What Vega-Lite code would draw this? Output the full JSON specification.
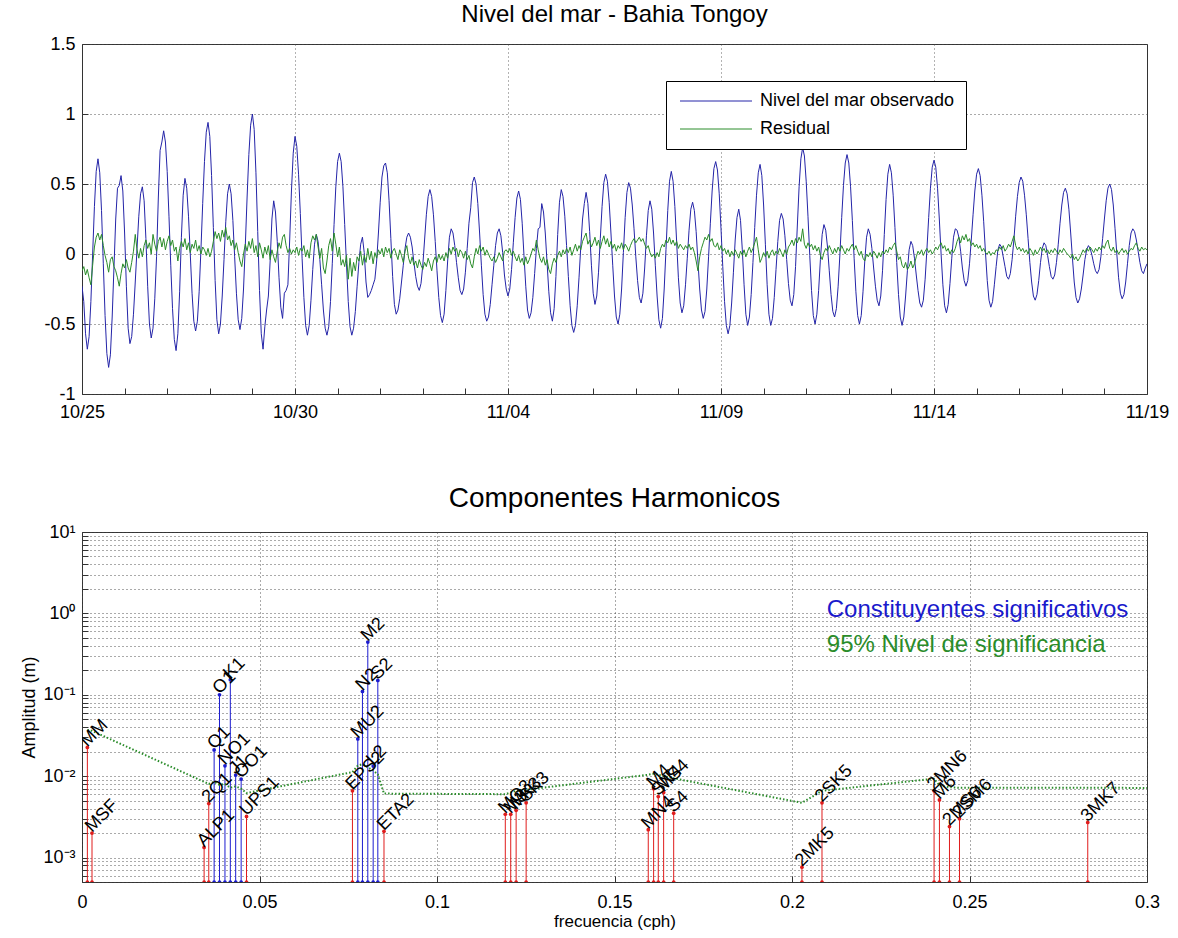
{
  "$schema": "https://vega.github.io/schema/vega-lite/v6.json",
  "background": "white",
  "padding": {"left": 20, "top": 2, "right": 5, "bottom": 0},
  "spacing": 62,
  "config": {
    "font": "Liberation Sans",
    "view": {"stroke": "#333333", "strokeWidth": 1},
    "axis": {
      "labelFontSize": 18,
      "labelColor": "#000000",
      "titleFontSize": 18,
      "titleFontWeight": "normal",
      "titleColor": "#000000",
      "domain": false,
      "tickColor": "#333333",
      "tickSize": -6,
      "labelPadding": 13,
      "labelOverlap": false,
      "labelFlush": false,
      "gridColor": "#444444",
      "gridDash": [1, 3],
      "gridOpacity": 0.9
    },
    "axisX": {"labelPadding": 15},
    "title": {"fontWeight": "normal", "color": "#000000"}
  },
  "vconcat": [
    {
      "width": 1065,
      "height": 350,
      "title": {"text": "Nivel del mar - Bahia Tongoy", "fontSize": 24, "offset": 8},
      "data": {"name": "serie_horaria", "values": [
{"hora":0,"nivel":-0.23,"residual":-0.12},{"hora":1,"nivel":-0.34,"residual":-0.09},{"hora":2,"nivel":-0.57,"residual":-0.15},{"hora":3,"nivel":-0.68,"residual":-0.11},{"hora":4,"nivel":-0.59,"residual":-0.17},{"hora":5,"nivel":-0.34,"residual":-0.22},{"hora":6,"nivel":0.00,"residual":-0.08},{"hora":7,"nivel":0.34,"residual":0.05},{"hora":8,"nivel":0.59,"residual":0.12},{"hora":9,"nivel":0.68,"residual":0.15},{"hora":10,"nivel":0.58,"residual":0.10},{"hora":11,"nivel":0.31,"residual":0.14},
{"hora":12,"nivel":-0.07,"residual":0.06},{"hora":13,"nivel":-0.44,"residual":-0.01},{"hora":14,"nivel":-0.71,"residual":-0.06},{"hora":15,"nivel":-0.81,"residual":-0.13},{"hora":16,"nivel":-0.72,"residual":-0.04},{"hora":17,"nivel":-0.45,"residual":-0.02},{"hora":18,"nivel":-0.10,"residual":-0.09},{"hora":19,"nivel":0.25,"residual":-0.12},{"hora":20,"nivel":0.47,"residual":-0.17},{"hora":21,"nivel":0.49,"residual":-0.23},{"hora":22,"nivel":0.56,"residual":-0.14},{"hora":23,"nivel":0.45,"residual":-0.07},
{"hora":24,"nivel":0.15,"residual":-0.10},{"hora":25,"nivel":-0.23,"residual":-0.04},{"hora":26,"nivel":-0.53,"residual":-0.10},{"hora":27,"nivel":-0.64,"residual":-0.13},{"hora":28,"nivel":-0.59,"residual":-0.06},{"hora":29,"nivel":-0.43,"residual":0.02},{"hora":30,"nivel":-0.20,"residual":0.14},{"hora":31,"nivel":0.04,"residual":0.03},{"hora":32,"nivel":0.27,"residual":-0.03},{"hora":33,"nivel":0.43,"residual":0.04},{"hora":34,"nivel":0.48,"residual":-0.02},{"hora":35,"nivel":0.38,"residual":0.06},
{"hora":36,"nivel":0.11,"residual":0.10},{"hora":37,"nivel":-0.23,"residual":0.04},{"hora":38,"nivel":-0.50,"residual":0.08},{"hora":39,"nivel":-0.60,"residual":0.00},{"hora":40,"nivel":-0.53,"residual":0.14},{"hora":41,"nivel":-0.32,"residual":0.07},{"hora":42,"nivel":-0.02,"residual":0.02},{"hora":43,"nivel":0.40,"residual":0.09},{"hora":44,"nivel":0.74,"residual":0.12},{"hora":45,"nivel":0.80,"residual":0.05},{"hora":46,"nivel":0.88,"residual":0.11},{"hora":47,"nivel":0.80,"residual":0.03},
{"hora":48,"nivel":0.59,"residual":0.09},{"hora":49,"nivel":0.27,"residual":0.13},{"hora":50,"nivel":-0.08,"residual":0.06},{"hora":51,"nivel":-0.39,"residual":0.10},{"hora":52,"nivel":-0.61,"residual":0.02},{"hora":53,"nivel":-0.69,"residual":0.05},{"hora":54,"nivel":-0.57,"residual":-0.05},{"hora":55,"nivel":-0.27,"residual":0.04},{"hora":56,"nivel":0.12,"residual":0.09},{"hora":57,"nivel":0.42,"residual":0.05},{"hora":58,"nivel":0.54,"residual":0.11},{"hora":59,"nivel":0.47,"residual":0.03},
{"hora":60,"nivel":0.27,"residual":0.08},{"hora":61,"nivel":0.00,"residual":0.01},{"hora":62,"nivel":-0.28,"residual":0.07},{"hora":63,"nivel":-0.48,"residual":0.04},{"hora":64,"nivel":-0.55,"residual":0.10},{"hora":65,"nivel":-0.48,"residual":0.02},{"hora":66,"nivel":-0.27,"residual":0.06},{"hora":67,"nivel":0.03,"residual":0.00},{"hora":68,"nivel":0.36,"residual":0.05},{"hora":69,"nivel":0.66,"residual":0.03},{"hora":70,"nivel":0.87,"residual":-0.01},{"hora":71,"nivel":0.94,"residual":0.04},
{"hora":72,"nivel":0.84,"residual":-0.02},{"hora":73,"nivel":0.56,"residual":0.02},{"hora":74,"nivel":0.19,"residual":0.09},{"hora":75,"nivel":-0.19,"residual":0.16},{"hora":76,"nivel":-0.47,"residual":0.11},{"hora":77,"nivel":-0.57,"residual":0.15},{"hora":78,"nivel":-0.50,"residual":0.09},{"hora":79,"nivel":-0.30,"residual":0.17},{"hora":80,"nivel":-0.04,"residual":0.12},{"hora":81,"nivel":0.23,"residual":0.19},{"hora":82,"nivel":0.43,"residual":0.10},{"hora":83,"nivel":0.50,"residual":0.13},
{"hora":84,"nivel":0.43,"residual":0.06},{"hora":85,"nivel":0.24,"residual":0.10},{"hora":86,"nivel":-0.02,"residual":0.03},{"hora":87,"nivel":-0.28,"residual":0.08},{"hora":88,"nivel":-0.47,"residual":0.01},{"hora":89,"nivel":-0.54,"residual":-0.05},{"hora":90,"nivel":-0.46,"residual":-0.09},{"hora":91,"nivel":-0.25,"residual":0.00},{"hora":92,"nivel":0.06,"residual":0.07},{"hora":93,"nivel":0.40,"residual":0.02},{"hora":94,"nivel":0.71,"residual":0.09},{"hora":95,"nivel":0.92,"residual":0.04},
{"hora":96,"nivel":1.00,"residual":0.11},{"hora":97,"nivel":0.89,"residual":0.01},{"hora":98,"nivel":0.58,"residual":0.06},{"hora":99,"nivel":0.16,"residual":-0.02},{"hora":100,"nivel":-0.26,"residual":0.08},{"hora":101,"nivel":-0.57,"residual":0.03},{"hora":102,"nivel":-0.68,"residual":-0.03},{"hora":103,"nivel":-0.52,"residual":0.05},{"hora":104,"nivel":-0.40,"residual":0.00},{"hora":105,"nivel":-0.30,"residual":0.06},{"hora":106,"nivel":-0.05,"residual":-0.04},{"hora":107,"nivel":0.25,"residual":0.03},
{"hora":108,"nivel":0.38,"residual":-0.02},{"hora":109,"nivel":0.30,"residual":-0.06},{"hora":110,"nivel":0.09,"residual":0.02},{"hora":111,"nivel":-0.17,"residual":0.08},{"hora":112,"nivel":-0.38,"residual":0.04},{"hora":113,"nivel":-0.46,"residual":0.12},{"hora":114,"nivel":-0.28,"residual":0.14},{"hora":115,"nivel":-0.26,"residual":0.06},{"hora":116,"nivel":-0.22,"residual":0.01},{"hora":117,"nivel":0.10,"residual":0.04},{"hora":118,"nivel":0.45,"residual":0.00},{"hora":119,"nivel":0.72,"residual":0.03},
{"hora":120,"nivel":0.84,"residual":0.01},{"hora":121,"nivel":0.77,"residual":0.05},{"hora":122,"nivel":0.57,"residual":-0.01},{"hora":123,"nivel":0.29,"residual":0.04},{"hora":124,"nivel":-0.03,"residual":0.02},{"hora":125,"nivel":-0.31,"residual":0.06},{"hora":126,"nivel":-0.51,"residual":-0.02},{"hora":127,"nivel":-0.58,"residual":0.03},{"hora":128,"nivel":-0.51,"residual":-0.03},{"hora":129,"nivel":-0.33,"residual":0.08},{"hora":130,"nivel":-0.11,"residual":0.13},{"hora":131,"nivel":0.07,"residual":0.10},
{"hora":132,"nivel":0.14,"residual":0.14},{"hora":133,"nivel":0.09,"residual":0.05},{"hora":134,"nivel":-0.04,"residual":-0.03},{"hora":135,"nivel":-0.22,"residual":0.04},{"hora":136,"nivel":-0.40,"residual":-0.10},{"hora":137,"nivel":-0.53,"residual":-0.14},{"hora":138,"nivel":-0.58,"residual":-0.05},{"hora":139,"nivel":-0.52,"residual":0.06},{"hora":140,"nivel":-0.34,"residual":0.11},{"hora":141,"nivel":-0.07,"residual":0.02},{"hora":142,"nivel":0.21,"residual":0.15},{"hora":143,"nivel":0.48,"residual":0.07},
{"hora":144,"nivel":0.66,"residual":-0.02},{"hora":145,"nivel":0.72,"residual":0.05},{"hora":146,"nivel":0.66,"residual":-0.08},{"hora":147,"nivel":0.48,"residual":-0.04},{"hora":148,"nivel":0.21,"residual":-0.09},{"hora":149,"nivel":-0.07,"residual":-0.01},{"hora":150,"nivel":-0.34,"residual":-0.18},{"hora":151,"nivel":-0.52,"residual":-0.03},{"hora":152,"nivel":-0.58,"residual":-0.16},{"hora":153,"nivel":-0.53,"residual":-0.06},{"hora":154,"nivel":-0.41,"residual":-0.12},{"hora":155,"nivel":-0.23,"residual":-0.02},
{"hora":156,"nivel":-0.06,"residual":-0.05},{"hora":157,"nivel":0.07,"residual":0.02},{"hora":158,"nivel":0.12,"residual":-0.08},{"hora":159,"nivel":0.01,"residual":-0.01},{"hora":160,"nivel":-0.20,"residual":-0.06},{"hora":161,"nivel":-0.31,"residual":0.04},{"hora":162,"nivel":-0.29,"residual":-0.04},{"hora":163,"nivel":-0.26,"residual":0.02},{"hora":164,"nivel":-0.22,"residual":-0.07},{"hora":165,"nivel":-0.18,"residual":0.01},{"hora":166,"nivel":-0.05,"residual":-0.03},{"hora":167,"nivel":0.15,"residual":0.03},
{"hora":168,"nivel":0.37,"residual":0.00},{"hora":169,"nivel":0.55,"residual":0.04},{"hora":170,"nivel":0.63,"residual":-0.02},{"hora":171,"nivel":0.65,"residual":0.05},{"hora":172,"nivel":0.58,"residual":0.01},{"hora":173,"nivel":0.38,"residual":0.04},{"hora":174,"nivel":0.11,"residual":-0.03},{"hora":175,"nivel":-0.16,"residual":0.02},{"hora":176,"nivel":-0.36,"residual":0.04},{"hora":177,"nivel":-0.43,"residual":0.00},{"hora":178,"nivel":-0.40,"residual":-0.04},{"hora":179,"nivel":-0.32,"residual":0.03},
{"hora":180,"nivel":-0.20,"residual":-0.01},{"hora":181,"nivel":-0.08,"residual":-0.06},{"hora":182,"nivel":0.04,"residual":0.02},{"hora":183,"nivel":0.12,"residual":0.06},{"hora":184,"nivel":0.15,"residual":-0.03},{"hora":185,"nivel":0.12,"residual":-0.07},{"hora":186,"nivel":0.05,"residual":-0.02},{"hora":187,"nivel":-0.06,"residual":-0.08},{"hora":188,"nivel":-0.16,"residual":-0.05},{"hora":189,"nivel":-0.23,"residual":-0.10},{"hora":190,"nivel":-0.26,"residual":-0.04},{"hora":191,"nivel":-0.21,"residual":-0.08},
{"hora":192,"nivel":-0.08,"residual":-0.11},{"hora":193,"nivel":0.10,"residual":-0.06},{"hora":194,"nivel":0.28,"residual":-0.09},{"hora":195,"nivel":0.41,"residual":-0.03},{"hora":196,"nivel":0.46,"residual":-0.07},{"hora":197,"nivel":0.41,"residual":-0.12},{"hora":198,"nivel":0.28,"residual":-0.05},{"hora":199,"nivel":0.09,"residual":-0.02},{"hora":200,"nivel":-0.12,"residual":-0.06},{"hora":201,"nivel":-0.31,"residual":0.00},{"hora":202,"nivel":-0.44,"residual":-0.04},{"hora":203,"nivel":-0.49,"residual":-0.01},
{"hora":204,"nivel":-0.43,"residual":-0.05},{"hora":205,"nivel":-0.26,"residual":0.01},{"hora":206,"nivel":-0.05,"residual":-0.03},{"hora":207,"nivel":0.12,"residual":0.04},{"hora":208,"nivel":0.18,"residual":0.00},{"hora":209,"nivel":0.15,"residual":0.05},{"hora":210,"nivel":0.06,"residual":0.02},{"hora":211,"nivel":-0.06,"residual":0.04},{"hora":212,"nivel":-0.17,"residual":-0.02},{"hora":213,"nivel":-0.26,"residual":0.03},{"hora":214,"nivel":-0.29,"residual":0.01},{"hora":215,"nivel":-0.25,"residual":-0.03},
{"hora":216,"nivel":-0.13,"residual":0.02},{"hora":217,"nivel":0.04,"residual":-0.04},{"hora":218,"nivel":0.22,"residual":-0.01},{"hora":219,"nivel":0.33,"residual":-0.07},{"hora":220,"nivel":0.51,"residual":-0.10},{"hora":221,"nivel":0.55,"residual":-0.02},{"hora":222,"nivel":0.50,"residual":0.04},{"hora":223,"nivel":0.36,"residual":0.00},{"hora":224,"nivel":0.15,"residual":0.06},{"hora":225,"nivel":-0.08,"residual":0.02},{"hora":226,"nivel":-0.29,"residual":0.05},{"hora":227,"nivel":-0.43,"residual":-0.01},
{"hora":228,"nivel":-0.48,"residual":0.03},{"hora":229,"nivel":-0.45,"residual":0.00},{"hora":230,"nivel":-0.36,"residual":-0.03},{"hora":231,"nivel":-0.22,"residual":-0.05},{"hora":232,"nivel":-0.08,"residual":-0.02},{"hora":233,"nivel":0.06,"residual":-0.06},{"hora":234,"nivel":0.15,"residual":-0.03},{"hora":235,"nivel":0.18,"residual":0.01},{"hora":236,"nivel":0.13,"residual":-0.02},{"hora":237,"nivel":0.01,"residual":-0.05},{"hora":238,"nivel":-0.15,"residual":0.02},{"hora":239,"nivel":-0.25,"residual":0.03},
{"hora":240,"nivel":-0.30,"residual":0.01},{"hora":241,"nivel":-0.25,"residual":0.04},{"hora":242,"nivel":-0.11,"residual":-0.01},{"hora":243,"nivel":0.08,"residual":0.02},{"hora":244,"nivel":0.26,"residual":-0.02},{"hora":245,"nivel":0.40,"residual":-0.05},{"hora":246,"nivel":0.45,"residual":-0.01},{"hora":247,"nivel":0.39,"residual":-0.06},{"hora":248,"nivel":0.22,"residual":-0.03},{"hora":249,"nivel":-0.01,"residual":-0.08},{"hora":250,"nivel":-0.23,"residual":-0.02},{"hora":251,"nivel":-0.40,"residual":-0.07},
{"hora":252,"nivel":-0.46,"residual":-0.04},{"hora":253,"nivel":-0.42,"residual":0.00},{"hora":254,"nivel":-0.31,"residual":0.04},{"hora":255,"nivel":-0.14,"residual":0.02},{"hora":256,"nivel":0.04,"residual":0.10},{"hora":257,"nivel":0.18,"residual":0.03},{"hora":258,"nivel":0.19,"residual":-0.03},{"hora":259,"nivel":0.36,"residual":-0.06},{"hora":260,"nivel":0.30,"residual":-0.02},{"hora":261,"nivel":0.15,"residual":-0.08},{"hora":262,"nivel":-0.06,"residual":-0.04},{"hora":263,"nivel":-0.27,"residual":-0.11},
{"hora":264,"nivel":-0.42,"residual":-0.14},{"hora":265,"nivel":-0.48,"residual":-0.07},{"hora":266,"nivel":-0.39,"residual":-0.03},{"hora":267,"nivel":-0.16,"residual":-0.06},{"hora":268,"nivel":0.14,"residual":-0.01},{"hora":269,"nivel":0.37,"residual":0.02},{"hora":270,"nivel":0.46,"residual":-0.02},{"hora":271,"nivel":0.41,"residual":0.03},{"hora":272,"nivel":0.27,"residual":0.00},{"hora":273,"nivel":0.06,"residual":0.04},{"hora":274,"nivel":-0.16,"residual":0.01},{"hora":275,"nivel":-0.37,"residual":0.05},
{"hora":276,"nivel":-0.51,"residual":-0.01},{"hora":277,"nivel":-0.56,"residual":0.03},{"hora":278,"nivel":-0.51,"residual":0.07},{"hora":279,"nivel":-0.37,"residual":0.02},{"hora":280,"nivel":-0.17,"residual":0.06},{"hora":281,"nivel":0.05,"residual":0.03},{"hora":282,"nivel":0.25,"residual":0.09},{"hora":283,"nivel":0.36,"residual":0.12},{"hora":284,"nivel":0.44,"residual":0.15},{"hora":285,"nivel":0.36,"residual":0.07},{"hora":286,"nivel":0.16,"residual":0.10},{"hora":287,"nivel":-0.08,"residual":0.05},
{"hora":288,"nivel":-0.28,"residual":0.08},{"hora":289,"nivel":-0.36,"residual":0.12},{"hora":290,"nivel":-0.30,"residual":0.06},{"hora":291,"nivel":-0.13,"residual":0.10},{"hora":292,"nivel":0.11,"residual":0.04},{"hora":293,"nivel":0.34,"residual":0.09},{"hora":294,"nivel":0.51,"residual":0.13},{"hora":295,"nivel":0.57,"residual":0.07},{"hora":296,"nivel":0.52,"residual":0.11},{"hora":297,"nivel":0.37,"residual":0.05},{"hora":298,"nivel":0.15,"residual":0.09},{"hora":299,"nivel":-0.08,"residual":0.04},
{"hora":300,"nivel":-0.30,"residual":0.07},{"hora":301,"nivel":-0.45,"residual":0.02},{"hora":302,"nivel":-0.50,"residual":0.06},{"hora":303,"nivel":-0.43,"residual":0.04},{"hora":304,"nivel":-0.25,"residual":0.08},{"hora":305,"nivel":0.01,"residual":0.03},{"hora":306,"nivel":0.26,"residual":0.07},{"hora":307,"nivel":0.44,"residual":0.05},{"hora":308,"nivel":0.51,"residual":0.02},{"hora":309,"nivel":0.47,"residual":0.06},{"hora":310,"nivel":0.35,"residual":0.09},{"hora":311,"nivel":0.18,"residual":0.11},
{"hora":312,"nivel":-0.02,"residual":0.08},{"hora":313,"nivel":-0.19,"residual":0.10},{"hora":314,"nivel":-0.31,"residual":0.12},{"hora":315,"nivel":-0.35,"residual":0.09},{"hora":316,"nivel":-0.28,"residual":0.11},{"hora":317,"nivel":-0.10,"residual":0.07},{"hora":318,"nivel":0.13,"residual":0.04},{"hora":319,"nivel":0.31,"residual":0.06},{"hora":320,"nivel":0.38,"residual":0.01},{"hora":321,"nivel":0.32,"residual":-0.02},{"hora":322,"nivel":0.15,"residual":0.00},{"hora":323,"nivel":-0.08,"residual":-0.03},
{"hora":324,"nivel":-0.30,"residual":0.01},{"hora":325,"nivel":-0.47,"residual":-0.02},{"hora":326,"nivel":-0.53,"residual":0.04},{"hora":327,"nivel":-0.46,"residual":0.07},{"hora":328,"nivel":-0.25,"residual":0.05},{"hora":329,"nivel":0.03,"residual":0.10},{"hora":330,"nivel":0.31,"residual":0.08},{"hora":331,"nivel":0.52,"residual":0.12},{"hora":332,"nivel":0.59,"residual":0.07},{"hora":333,"nivel":0.52,"residual":0.10},{"hora":334,"nivel":0.34,"residual":0.06},{"hora":335,"nivel":0.09,"residual":0.09},
{"hora":336,"nivel":-0.17,"residual":0.04},{"hora":337,"nivel":-0.35,"residual":0.07},{"hora":338,"nivel":-0.42,"residual":0.05},{"hora":339,"nivel":-0.37,"residual":0.03},{"hora":340,"nivel":-0.22,"residual":0.06},{"hora":341,"nivel":-0.03,"residual":0.04},{"hora":342,"nivel":0.17,"residual":0.07},{"hora":343,"nivel":0.32,"residual":0.03},{"hora":344,"nivel":0.37,"residual":0.05},{"hora":345,"nivel":0.31,"residual":0.01},{"hora":346,"nivel":0.16,"residual":-0.05},{"hora":347,"nivel":-0.05,"residual":-0.12},
{"hora":348,"nivel":-0.25,"residual":-0.02},{"hora":349,"nivel":-0.40,"residual":0.04},{"hora":350,"nivel":-0.46,"residual":0.08},{"hora":351,"nivel":-0.41,"residual":0.12},{"hora":352,"nivel":-0.25,"residual":0.10},{"hora":353,"nivel":-0.02,"residual":0.14},{"hora":354,"nivel":0.22,"residual":0.09},{"hora":355,"nivel":0.45,"residual":0.11},{"hora":356,"nivel":0.61,"residual":0.06},{"hora":357,"nivel":0.66,"residual":0.05},{"hora":358,"nivel":0.60,"residual":0.08},{"hora":359,"nivel":0.43,"residual":0.03},
{"hora":360,"nivel":0.18,"residual":0.06},{"hora":361,"nivel":-0.09,"residual":0.02},{"hora":362,"nivel":-0.34,"residual":0.04},{"hora":363,"nivel":-0.51,"residual":0.00},{"hora":364,"nivel":-0.57,"residual":0.03},{"hora":365,"nivel":-0.51,"residual":-0.02},{"hora":366,"nivel":-0.35,"residual":0.02},{"hora":367,"nivel":-0.13,"residual":-0.01},{"hora":368,"nivel":0.10,"residual":0.03},{"hora":369,"nivel":0.26,"residual":0.00},{"hora":370,"nivel":0.32,"residual":-0.03},{"hora":371,"nivel":0.24,"residual":0.02},
{"hora":372,"nivel":0.03,"residual":-0.01},{"hora":373,"nivel":-0.22,"residual":0.03},{"hora":374,"nivel":-0.43,"residual":-0.02},{"hora":375,"nivel":-0.51,"residual":0.02},{"hora":376,"nivel":-0.45,"residual":0.05},{"hora":377,"nivel":-0.29,"residual":0.01},{"hora":378,"nivel":-0.06,"residual":0.04},{"hora":379,"nivel":0.19,"residual":0.08},{"hora":380,"nivel":0.42,"residual":0.12},{"hora":381,"nivel":0.58,"residual":0.03},{"hora":382,"nivel":0.64,"residual":-0.06},{"hora":383,"nivel":0.56,"residual":-0.03},
{"hora":384,"nivel":0.35,"residual":0.01},{"hora":385,"nivel":0.07,"residual":-0.02},{"hora":386,"nivel":-0.22,"residual":0.02},{"hora":387,"nivel":-0.43,"residual":-0.03},{"hora":388,"nivel":-0.51,"residual":0.01},{"hora":389,"nivel":-0.46,"residual":0.03},{"hora":390,"nivel":-0.31,"residual":-0.01},{"hora":391,"nivel":-0.11,"residual":0.02},{"hora":392,"nivel":0.09,"residual":0.00},{"hora":393,"nivel":0.24,"residual":0.04},{"hora":394,"nivel":0.29,"residual":0.01},{"hora":395,"nivel":0.25,"residual":-0.02},
{"hora":396,"nivel":0.13,"residual":0.03},{"hora":397,"nivel":-0.04,"residual":0.00},{"hora":398,"nivel":-0.21,"residual":0.05},{"hora":399,"nivel":-0.33,"residual":0.07},{"hora":400,"nivel":-0.37,"residual":0.10},{"hora":401,"nivel":-0.29,"residual":0.06},{"hora":402,"nivel":-0.09,"residual":0.11},{"hora":403,"nivel":0.20,"residual":0.08},{"hora":404,"nivel":0.48,"residual":0.12},{"hora":405,"nivel":0.68,"residual":0.09},{"hora":406,"nivel":0.76,"residual":0.18},{"hora":407,"nivel":0.70,"residual":0.07},
{"hora":408,"nivel":0.52,"residual":0.04},{"hora":409,"nivel":0.27,"residual":0.08},{"hora":410,"nivel":-0.01,"residual":0.05},{"hora":411,"nivel":-0.26,"residual":0.07},{"hora":412,"nivel":-0.44,"residual":0.03},{"hora":413,"nivel":-0.50,"residual":0.06},{"hora":414,"nivel":-0.43,"residual":0.02},{"hora":415,"nivel":-0.26,"residual":0.05},{"hora":416,"nivel":-0.04,"residual":-0.01},{"hora":417,"nivel":0.14,"residual":-0.04},{"hora":418,"nivel":0.21,"residual":0.01},{"hora":419,"nivel":0.17,"residual":0.04},
{"hora":420,"nivel":0.05,"residual":0.02},{"hora":421,"nivel":-0.12,"residual":0.06},{"hora":422,"nivel":-0.29,"residual":0.03},{"hora":423,"nivel":-0.41,"residual":0.00},{"hora":424,"nivel":-0.45,"residual":0.04},{"hora":425,"nivel":-0.39,"residual":0.01},{"hora":426,"nivel":-0.23,"residual":0.05},{"hora":427,"nivel":0.00,"residual":0.02},{"hora":428,"nivel":0.26,"residual":0.06},{"hora":429,"nivel":0.49,"residual":0.03},{"hora":430,"nivel":0.65,"residual":0.00},{"hora":431,"nivel":0.71,"residual":0.04},
{"hora":432,"nivel":0.65,"residual":0.02},{"hora":433,"nivel":0.48,"residual":0.05},{"hora":434,"nivel":0.24,"residual":0.07},{"hora":435,"nivel":-0.03,"residual":0.03},{"hora":436,"nivel":-0.27,"residual":0.06},{"hora":437,"nivel":-0.44,"residual":0.02},{"hora":438,"nivel":-0.50,"residual":-0.01},{"hora":439,"nivel":-0.44,"residual":0.02},{"hora":440,"nivel":-0.27,"residual":-0.03},{"hora":441,"nivel":-0.05,"residual":-0.05},{"hora":442,"nivel":0.12,"residual":0.00},{"hora":443,"nivel":0.18,"residual":-0.02},
{"hora":444,"nivel":0.14,"residual":0.01},{"hora":445,"nivel":0.04,"residual":-0.02},{"hora":446,"nivel":-0.10,"residual":0.02},{"hora":447,"nivel":-0.23,"residual":0.00},{"hora":448,"nivel":-0.33,"residual":-0.03},{"hora":449,"nivel":-0.37,"residual":0.01},{"hora":450,"nivel":-0.30,"residual":-0.02},{"hora":451,"nivel":-0.12,"residual":0.02},{"hora":452,"nivel":0.14,"residual":0.00},{"hora":453,"nivel":0.39,"residual":0.03},{"hora":454,"nivel":0.57,"residual":0.01},{"hora":455,"nivel":0.64,"residual":0.05},
{"hora":456,"nivel":0.58,"residual":0.03},{"hora":457,"nivel":0.42,"residual":0.06},{"hora":458,"nivel":0.19,"residual":0.08},{"hora":459,"nivel":-0.06,"residual":0.02},{"hora":460,"nivel":-0.29,"residual":-0.04},{"hora":461,"nivel":-0.45,"residual":-0.02},{"hora":462,"nivel":-0.51,"residual":-0.08},{"hora":463,"nivel":-0.45,"residual":-0.10},{"hora":464,"nivel":-0.30,"residual":-0.06},{"hora":465,"nivel":-0.12,"residual":-0.11},{"hora":466,"nivel":0.03,"residual":-0.09},{"hora":467,"nivel":0.09,"residual":-0.05},
{"hora":468,"nivel":0.06,"residual":-0.10},{"hora":469,"nivel":-0.03,"residual":-0.07},{"hora":470,"nivel":-0.15,"residual":-0.02},{"hora":471,"nivel":-0.26,"residual":0.02},{"hora":472,"nivel":-0.35,"residual":0.00},{"hora":473,"nivel":-0.38,"residual":0.03},{"hora":474,"nivel":-0.33,"residual":-0.01},{"hora":475,"nivel":-0.18,"residual":0.02},{"hora":476,"nivel":0.03,"residual":0.04},{"hora":477,"nivel":0.26,"residual":0.01},{"hora":478,"nivel":0.47,"residual":0.03},{"hora":479,"nivel":0.62,"residual":0.00},
{"hora":480,"nivel":0.67,"residual":0.02},{"hora":481,"nivel":0.62,"residual":0.05},{"hora":482,"nivel":0.47,"residual":0.03},{"hora":483,"nivel":0.25,"residual":0.06},{"hora":484,"nivel":0.00,"residual":0.08},{"hora":485,"nivel":-0.22,"residual":0.04},{"hora":486,"nivel":-0.37,"residual":0.06},{"hora":487,"nivel":-0.42,"residual":0.02},{"hora":488,"nivel":-0.36,"residual":0.04},{"hora":489,"nivel":-0.21,"residual":0.00},{"hora":490,"nivel":-0.03,"residual":0.03},{"hora":491,"nivel":0.12,"residual":0.01},
{"hora":492,"nivel":0.18,"residual":0.04},{"hora":493,"nivel":0.17,"residual":0.09},{"hora":494,"nivel":0.12,"residual":0.12},{"hora":495,"nivel":0.02,"residual":0.08},{"hora":496,"nivel":-0.10,"residual":0.13},{"hora":497,"nivel":-0.19,"residual":0.10},{"hora":498,"nivel":-0.23,"residual":0.14},{"hora":499,"nivel":-0.19,"residual":0.09},{"hora":500,"nivel":-0.07,"residual":0.11},{"hora":501,"nivel":0.10,"residual":0.06},{"hora":502,"nivel":0.28,"residual":0.08},{"hora":503,"nivel":0.45,"residual":0.05},
{"hora":504,"nivel":0.57,"residual":0.07},{"hora":505,"nivel":0.61,"residual":0.04},{"hora":506,"nivel":0.56,"residual":0.06},{"hora":507,"nivel":0.42,"residual":0.02},{"hora":508,"nivel":0.23,"residual":0.04},{"hora":509,"nivel":0.01,"residual":0.01},{"hora":510,"nivel":-0.19,"residual":0.00},{"hora":511,"nivel":-0.33,"residual":0.02},{"hora":512,"nivel":-0.38,"residual":-0.01},{"hora":513,"nivel":-0.34,"residual":0.01},{"hora":514,"nivel":-0.22,"residual":0.00},{"hora":515,"nivel":-0.09,"residual":0.03},
{"hora":516,"nivel":0.03,"residual":0.02},{"hora":517,"nivel":0.07,"residual":0.05},{"hora":518,"nivel":0.05,"residual":0.03},{"hora":519,"nivel":-0.02,"residual":0.06},{"hora":520,"nivel":-0.09,"residual":0.02},{"hora":521,"nivel":-0.16,"residual":0.04},{"hora":522,"nivel":-0.18,"residual":0.07},{"hora":523,"nivel":-0.14,"residual":0.05},{"hora":524,"nivel":-0.04,"residual":0.09},{"hora":525,"nivel":0.10,"residual":0.13},{"hora":526,"nivel":0.27,"residual":0.06},{"hora":527,"nivel":0.41,"residual":0.03},
{"hora":528,"nivel":0.51,"residual":0.05},{"hora":529,"nivel":0.55,"residual":0.02},{"hora":530,"nivel":0.52,"residual":0.04},{"hora":531,"nivel":0.42,"residual":0.01},{"hora":532,"nivel":0.28,"residual":0.03},{"hora":533,"nivel":0.11,"residual":0.00},{"hora":534,"nivel":-0.06,"residual":0.04},{"hora":535,"nivel":-0.20,"residual":0.02},{"hora":536,"nivel":-0.30,"residual":-0.01},{"hora":537,"nivel":-0.33,"residual":0.03},{"hora":538,"nivel":-0.29,"residual":0.00},{"hora":539,"nivel":-0.19,"residual":0.02},
{"hora":540,"nivel":-0.06,"residual":0.05},{"hora":541,"nivel":0.04,"residual":0.02},{"hora":542,"nivel":0.08,"residual":0.04},{"hora":543,"nivel":0.06,"residual":0.01},{"hora":544,"nivel":-0.01,"residual":0.03},{"hora":545,"nivel":-0.09,"residual":0.00},{"hora":546,"nivel":-0.16,"residual":0.03},{"hora":547,"nivel":-0.18,"residual":0.01},{"hora":548,"nivel":-0.15,"residual":0.04},{"hora":549,"nivel":-0.06,"residual":0.02},{"hora":550,"nivel":0.07,"residual":0.00},{"hora":551,"nivel":0.22,"residual":0.03},
{"hora":552,"nivel":0.35,"residual":0.01},{"hora":553,"nivel":0.44,"residual":0.04},{"hora":554,"nivel":0.47,"residual":0.02},{"hora":555,"nivel":0.43,"residual":0.00},{"hora":556,"nivel":0.32,"residual":-0.01},{"hora":557,"nivel":0.15,"residual":-0.03},{"hora":558,"nivel":-0.03,"residual":0.00},{"hora":559,"nivel":-0.20,"residual":-0.04},{"hora":560,"nivel":-0.31,"residual":-0.02},{"hora":561,"nivel":-0.35,"residual":-0.05},{"hora":562,"nivel":-0.32,"residual":-0.03},{"hora":563,"nivel":-0.25,"residual":0.00},
{"hora":564,"nivel":-0.15,"residual":0.03},{"hora":565,"nivel":-0.04,"residual":0.01},{"hora":566,"nivel":0.03,"residual":0.04},{"hora":567,"nivel":0.06,"residual":0.02},{"hora":568,"nivel":0.04,"residual":0.05},{"hora":569,"nivel":-0.01,"residual":0.03},{"hora":570,"nivel":-0.07,"residual":0.01},{"hora":571,"nivel":-0.12,"residual":0.04},{"hora":572,"nivel":-0.14,"residual":0.02},{"hora":573,"nivel":-0.11,"residual":0.05},{"hora":574,"nivel":-0.02,"residual":0.03},{"hora":575,"nivel":0.11,"residual":0.06},
{"hora":576,"nivel":0.25,"residual":0.04},{"hora":577,"nivel":0.38,"residual":0.08},{"hora":578,"nivel":0.47,"residual":0.10},{"hora":579,"nivel":0.50,"residual":0.04},{"hora":580,"nivel":0.46,"residual":0.02},{"hora":581,"nivel":0.35,"residual":0.05},{"hora":582,"nivel":0.18,"residual":0.01},{"hora":583,"nivel":0.00,"residual":0.03},{"hora":584,"nivel":-0.17,"residual":0.00},{"hora":585,"nivel":-0.28,"residual":0.02},{"hora":586,"nivel":-0.32,"residual":0.04},{"hora":587,"nivel":-0.29,"residual":0.01},
{"hora":588,"nivel":-0.20,"residual":0.03},{"hora":589,"nivel":-0.07,"residual":0.00},{"hora":590,"nivel":0.06,"residual":0.02},{"hora":591,"nivel":0.15,"residual":0.04},{"hora":592,"nivel":0.18,"residual":0.03},{"hora":593,"nivel":0.16,"residual":0.06},{"hora":594,"nivel":0.10,"residual":0.08},{"hora":595,"nivel":0.02,"residual":0.04},{"hora":596,"nivel":-0.06,"residual":0.02},{"hora":597,"nivel":-0.12,"residual":0.05},{"hora":598,"nivel":-0.14,"residual":0.03},{"hora":599,"nivel":-0.10,"residual":0.04},
{"hora":600,"nivel":-0.07,"residual":0.03}
      ]},
      "transform": [{"fold": ["nivel", "residual"], "as": ["serie", "valor"]}],
      "mark": {"type": "line", "strokeWidth": 1, "clip": true},
      "encoding": {
        "x": {
          "field": "hora",
          "type": "quantitative",
          "scale": {"domain": [0, 600], "nice": false, "zero": false},
          "axis": {
            "title": null,
            "values": [0,24,48,72,96,120,144,168,192,216,240,264,288,312,336,360,384,408,432,456,480,504,528,552,576,600],
            "labelExpr": "datum.value % 120 == 0 ? ['10/25','10/30','11/04','11/09','11/14','11/19'][datum.value / 120] : ''",
            "gridOpacity": {"condition": {"test": "datum.value % 120 == 0 && datum.value > 0 && datum.value < 600", "value": 0.9}, "value": 0}
          }
        },
        "y": {
          "field": "valor",
          "type": "quantitative",
          "scale": {"domain": [-1, 1.5], "nice": false, "zero": false},
          "axis": {
            "title": null,
            "values": [-1, -0.5, 0, 0.5, 1, 1.5],
            "labelExpr": "'' + datum.value"
          }
        },
        "color": {
          "field": "serie",
          "type": "nominal",
          "scale": {"domain": ["nivel", "residual"], "range": ["#2424a8", "#2a8c2a"]},
          "legend": {
            "orient": "none",
            "legendX": 584,
            "legendY": 37,
            "title": null,
            "symbolType": "M-8,0H8",
            "symbolSize": 81,
            "symbolStrokeWidth": 1,
            "symbolOffset": 30,
            "labelFontSize": 18,
            "labelOffset": 35,
            "labelLimit": 400,
            "padding": 11,
            "rowPadding": 10,
            "strokeColor": "#000000",
            "fillColor": "#ffffff",
            "labelExpr": "datum.label == 'nivel' ? 'Nivel del mar observado' : 'Residual'"
          }
        }
      }
    },
    {
      "width": 1065,
      "height": 350,
      "title": {"text": "Componentes Harmonicos", "fontSize": 28, "offset": 10},
      "data": {"name": "constituyentes", "values": [
        {"nombre": "MM", "frec": 0.00151, "amp": 0.0225, "err": 0.037, "significativo": false},
        {"nombre": "MSF", "frec": 0.00282, "amp": 0.0020, "err": 0.036, "significativo": false},
        {"nombre": "ALP1", "frec": 0.03440, "amp": 0.00133, "err": 0.0085, "significativo": false},
        {"nombre": "2Q1", "frec": 0.03571, "amp": 0.0046, "err": 0.0080, "significativo": false},
        {"nombre": "Q1", "frec": 0.03722, "amp": 0.0210, "err": 0.0085, "significativo": true},
        {"nombre": "O1", "frec": 0.03873, "amp": 0.100, "err": 0.0078, "significativo": true},
        {"nombre": "NO1", "frec": 0.04027, "amp": 0.0134, "err": 0.0080, "significativo": true},
        {"nombre": "K1", "frec": 0.04178, "amp": 0.153, "err": 0.0072, "significativo": true},
        {"nombre": "J1", "frec": 0.04329, "amp": 0.0103, "err": 0.0075, "significativo": true},
        {"nombre": "OO1", "frec": 0.04483, "amp": 0.0092, "err": 0.0070, "significativo": true},
        {"nombre": "UPS1", "frec": 0.04634, "amp": 0.0032, "err": 0.0062, "significativo": false},
        {"nombre": "EPS2", "frec": 0.07618, "amp": 0.0066, "err": 0.0112, "significativo": false},
        {"nombre": "MU2", "frec": 0.07769, "amp": 0.0286, "err": 0.0135, "significativo": true},
        {"nombre": "N2", "frec": 0.07900, "amp": 0.110, "err": 0.0140, "significativo": true},
        {"nombre": "M2", "frec": 0.08051, "amp": 0.444, "err": 0.0128, "significativo": true},
        {"nombre": "L2", "frec": 0.08202, "amp": 0.0133, "err": 0.0118, "significativo": true},
        {"nombre": "S2", "frec": 0.08333, "amp": 0.150, "err": 0.0105, "significativo": true},
        {"nombre": "ETA2", "frec": 0.08507, "amp": 0.0021, "err": 0.0061, "significativo": false},
        {"nombre": "MO3", "frec": 0.11924, "amp": 0.0034, "err": 0.0060, "significativo": false},
        {"nombre": "M3", "frec": 0.12077, "amp": 0.0034, "err": 0.0063, "significativo": false},
        {"nombre": "MK3", "frec": 0.12229, "amp": 0.0038, "err": 0.0066, "significativo": false},
        {"nombre": "SK3", "frec": 0.12511, "amp": 0.0047, "err": 0.0068, "significativo": false},
        {"nombre": "MN4", "frec": 0.15951, "amp": 0.0022, "err": 0.0104, "significativo": false},
        {"nombre": "M4", "frec": 0.16102, "amp": 0.0070, "err": 0.0107, "significativo": false},
        {"nombre": "SN4", "frec": 0.16233, "amp": 0.0056, "err": 0.0104, "significativo": false},
        {"nombre": "MS4", "frec": 0.16384, "amp": 0.0063, "err": 0.0100, "significativo": false},
        {"nombre": "S4", "frec": 0.16667, "amp": 0.0035, "err": 0.0094, "significativo": false},
        {"nombre": "2MK5", "frec": 0.20280, "amp": 0.00076, "err": 0.0047, "significativo": false},
        {"nombre": "2SK5", "frec": 0.20845, "amp": 0.0047, "err": 0.0066, "significativo": false},
        {"nombre": "2MN6", "frec": 0.24002, "amp": 0.0066, "err": 0.0093, "significativo": false},
        {"nombre": "M6", "frec": 0.24153, "amp": 0.0051, "err": 0.0077, "significativo": false},
        {"nombre": "2MS6", "frec": 0.24436, "amp": 0.0024, "err": 0.0073, "significativo": false},
        {"nombre": "2SM6", "frec": 0.24718, "amp": 0.0030, "err": 0.0072, "significativo": false},
        {"nombre": "3MK7", "frec": 0.28331, "amp": 0.0027, "err": 0.0072, "significativo": false},
        {"nombre": "M8", "frec": 0.32205, "amp": 0.0010, "err": 0.0071, "significativo": false}
      ]},
      "encoding": {
        "x": {
          "field": "frec",
          "type": "quantitative",
          "scale": {"domain": [0, 0.3], "nice": false, "zero": false},
          "axis": {
            "title": "frecuencia (cph)",
            "titleFontSize": 17,
            "titlePadding": 2,
            "labelPadding": 17,
            "values": [0, 0.05, 0.1, 0.15, 0.2, 0.25, 0.3],
            "labelExpr": "'' + datum.value"
          }
        }
      },
      "layer": [
        {
          "mark": {"type": "rule", "strokeWidth": 1, "clip": true},
          "encoding": {
            "y": {
              "field": "amp",
              "type": "quantitative",
              "scale": {"type": "log", "domain": [0.0005, 10], "nice": false},
              "axis": {
                "title": "Amplitud (m)",
                "titlePadding": 4,
                "values": [0.0005,0.0006,0.0007,0.0008,0.0009,0.001,0.002,0.003,0.004,0.005,0.006,0.007,0.008,0.009,0.01,0.02,0.03,0.04,0.05,0.06,0.07,0.08,0.09,0.1,0.2,0.3,0.4,0.5,0.6,0.7,0.8,0.9,1,2,3,4,5,6,7,8,9,10],
                "labelExpr": "datum.value == 10 ? '10¹' : datum.value == 1 ? '10⁰' : datum.value == 0.1 ? '10⁻¹' : datum.value == 0.01 ? '10⁻²' : datum.value == 0.001 ? '10⁻³' : ''"
              }
            },
            "y2": {"datum": 0.0005},
            "color": {"condition": {"test": "datum.significativo", "value": "#1c1cd0"}, "value": "#e01c1c"}
          }
        },
        {
          "mark": {"type": "point", "filled": true, "size": 14, "opacity": 1, "clip": true},
          "encoding": {
            "y": {"field": "amp", "type": "quantitative"},
            "color": {"condition": {"test": "datum.significativo", "value": "#1c1cd0"}, "value": "#e01c1c"}
          }
        },
        {
          "mark": {"type": "point", "filled": true, "size": 14, "opacity": 1, "clip": true},
          "encoding": {
            "y": {"datum": 0.0005},
            "color": {"condition": {"test": "datum.significativo", "value": "#1c1cd0"}, "value": "#e01c1c"}
          }
        },
        {
          "mark": {"type": "line", "color": "#2a8c2a", "strokeWidth": 2, "strokeDash": [1.5, 2], "clip": true},
          "encoding": {
            "y": {"field": "err", "type": "quantitative"}
          }
        },
        {
          "transform": [{"filter": "datum.frec <= 0.3"}],
          "mark": {"type": "text", "angle": 315, "align": "left", "baseline": "alphabetic", "fontSize": 18, "color": "#000000", "clip": true},
          "encoding": {
            "y": {"field": "amp", "type": "quantitative"},
            "text": {"field": "nombre"}
          }
        },
        {
          "data": {"values": [
            {"texto": "Constituyentes significativos", "frec": 0.2098, "amp": 0.90, "clase": "significativo"},
            {"texto": "95% Nivel de significancia", "frec": 0.2098, "amp": 0.334, "clase": "nivel"}
          ]},
          "mark": {"type": "text", "align": "left", "baseline": "alphabetic", "fontSize": 24},
          "encoding": {
            "y": {"field": "amp", "type": "quantitative"},
            "text": {"field": "texto"},
            "color": {"condition": {"test": "datum.clase == 'significativo'", "value": "#1a1acc"}, "value": "#2a8c2a"}
          }
        }
      ]
    }
  ]
}
